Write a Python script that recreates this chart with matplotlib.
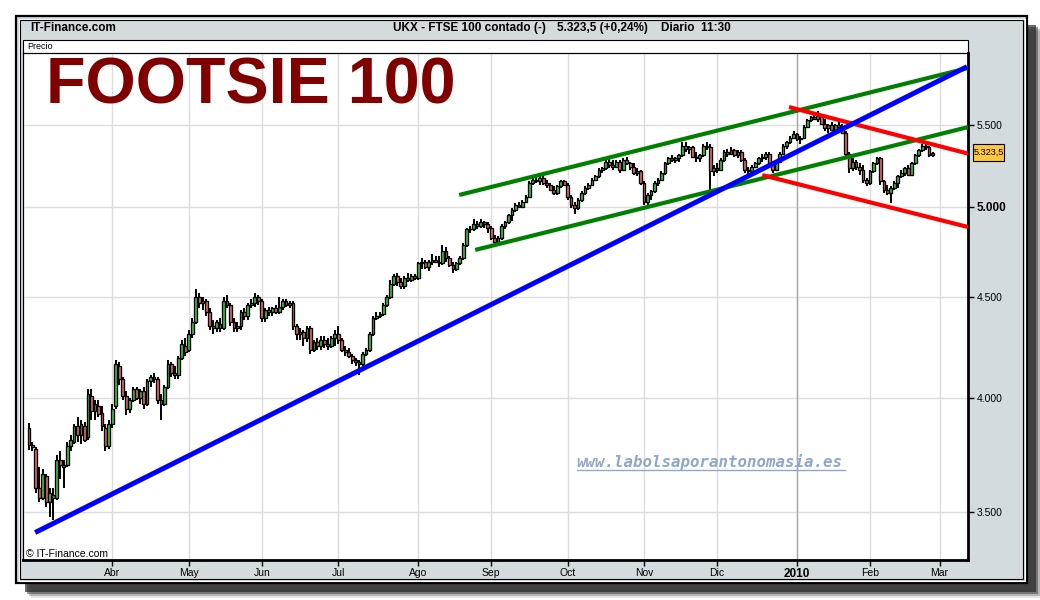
import numpy as np
import pandas as pd
import matplotlib
matplotlib.use("Agg")
import matplotlib.pyplot as plt
from matplotlib.patches import Rectangle
from matplotlib.ticker import NullLocator

plt.rcParams['font.family'] = ['Liberation Sans', 'DejaVu Sans']

# FTSE 100 diario, 26/02/2009 -> 26/02/2010
opens = [
    3860, 3785, 3770, 3600, 3560, 3650, 3540, 3570, 3560, 3720,
    3700, 3700, 3780, 3800, 3870, 3830, 3870, 3820, 4010, 3940,
    3960, 3930, 3860, 3780, 3880, 3960, 4150, 4090, 4010, 3950,
    3990, 4040, 4000, 4030, 3970, 4080, 4100, 4090, 3990, 3970,
    4050, 4160, 4120, 4110, 4190, 4250, 4230, 4310, 4370, 4500,
    4470, 4480, 4420, 4350, 4340, 4360, 4340, 4480, 4460, 4370,
    4340, 4350, 4420, 4400, 4460, 4470, 4500, 4480, 4390, 4430,
    4420, 4440, 4420, 4450, 4480, 4460, 4470, 4350, 4310, 4320,
    4290, 4340, 4230, 4270, 4250, 4280, 4260, 4250, 4290, 4310,
    4280, 4230, 4220, 4200, 4180, 4170, 4160, 4210, 4230, 4310,
    4390, 4400, 4410, 4460, 4500, 4570, 4610, 4580, 4560, 4600,
    4590, 4610, 4600, 4680, 4690, 4660, 4690, 4700, 4690, 4680,
    4750, 4710, 4670, 4650, 4680, 4710, 4780, 4870, 4870, 4900,
    4890, 4910, 4900, 4880, 4820, 4800, 4820, 4890, 4910, 4950,
    4980, 5010, 5000, 5030, 5060, 5140, 5160, 5150, 5170, 5140,
    5130, 5100, 5080, 5120, 5150, 5130, 5060, 5010, 4990, 5040,
    5080, 5110, 5130, 5160, 5180, 5220, 5230, 5270, 5250, 5240,
    5270, 5220, 5280, 5260, 5240, 5200, 5210, 5140, 5030, 5070,
    5090, 5140, 5160, 5200, 5260, 5290, 5280, 5290, 5310, 5370,
    5350, 5360, 5300, 5290, 5310, 5370, 5360, 5210, 5230, 5220,
    5280, 5330, 5320, 5340, 5310, 5330, 5280, 5220, 5210, 5240,
    5260, 5290, 5300, 5320, 5260, 5220, 5270, 5320, 5370, 5390,
    5420, 5440, 5410, 5420, 5490, 5530, 5550, 5540, 5560, 5510,
    5480, 5500, 5470, 5500, 5490, 5450, 5320, 5230, 5270, 5240,
    5220, 5160, 5140, 5210, 5260, 5290, 5150, 5100, 5080, 5110,
    5140, 5180, 5200, 5230, 5190, 5260, 5310, 5340, 5370, 5360,
    5310]
highs = [
    3885, 3800, 3775, 3690, 3680, 3660, 3600, 3600, 3740, 3760,
    3720, 3800, 3830, 3880, 3910, 3900, 3890, 4040, 4040, 3990,
    3990, 3960, 3880, 3900, 3970, 4180, 4170, 4100, 4030, 4000,
    4050, 4050, 4040, 4050, 4090, 4110, 4120, 4100, 4020, 4060,
    4180, 4170, 4150, 4200, 4280, 4290, 4330, 4390, 4540, 4520,
    4500, 4490, 4440, 4380, 4380, 4390, 4500, 4510, 4470, 4390,
    4370, 4430, 4440, 4470, 4490, 4520, 4510, 4490, 4440, 4450,
    4450, 4460, 4500, 4490, 4490, 4480, 4480, 4360, 4340, 4330,
    4350, 4350, 4280, 4290, 4300, 4300, 4290, 4300, 4330, 4350,
    4290, 4250, 4240, 4210, 4190, 4180, 4220, 4240, 4320, 4400,
    4420, 4420, 4470, 4510, 4590, 4620, 4630, 4600, 4610, 4630,
    4620, 4620, 4690, 4710, 4700, 4700, 4730, 4720, 4720, 4780,
    4770, 4720, 4690, 4690, 4720, 4790, 4880, 4890, 4930, 4920,
    4930, 4920, 4910, 4890, 4840, 4830, 4900, 4920, 4960, 4990,
    5020, 5030, 5040, 5070, 5150, 5170, 5180, 5180, 5180, 5160,
    5140, 5120, 5130, 5160, 5160, 5140, 5070, 5030, 5050, 5090,
    5120, 5140, 5170, 5190, 5230, 5240, 5290, 5290, 5280, 5280,
    5280, 5290, 5300, 5270, 5260, 5230, 5220, 5150, 5080, 5100,
    5150, 5170, 5210, 5270, 5300, 5310, 5300, 5320, 5390, 5390,
    5370, 5370, 5330, 5320, 5380, 5390, 5380, 5250, 5260, 5290,
    5340, 5350, 5360, 5350, 5340, 5340, 5290, 5240, 5250, 5270,
    5300, 5320, 5330, 5330, 5270, 5280, 5330, 5380, 5400, 5430,
    5460, 5450, 5430, 5500, 5540, 5560, 5570, 5590, 5570, 5540,
    5510, 5520, 5510, 5520, 5510, 5460, 5330, 5290, 5280, 5260,
    5250, 5170, 5220, 5270, 5300, 5300, 5160, 5130, 5120, 5150,
    5190, 5220, 5240, 5250, 5270, 5320, 5350, 5380, 5390, 5370,
    5330]
lows = [
    3765, 3760, 3580, 3540, 3550, 3520, 3480, 3470, 3550, 3640,
    3600, 3690, 3760, 3790, 3800, 3790, 3800, 3810, 3900, 3900,
    3910, 3850, 3760, 3770, 3860, 3950, 4060, 3990, 3920, 3930,
    3980, 3990, 3970, 3950, 3960, 4050, 4070, 3970, 3900, 3960,
    4040, 4100, 4090, 4090, 4180, 4200, 4220, 4290, 4360, 4440,
    4430, 4400, 4330, 4310, 4320, 4320, 4330, 4440, 4350, 4320,
    4320, 4330, 4380, 4380, 4440, 4450, 4460, 4370, 4370, 4400,
    4400, 4410, 4410, 4430, 4450, 4440, 4330, 4280, 4280, 4250,
    4270, 4210, 4220, 4230, 4230, 4240, 4230, 4240, 4250, 4260,
    4220, 4200, 4190, 4160, 4150, 4110, 4150, 4200, 4220, 4300,
    4380, 4390, 4400, 4450, 4490, 4560, 4560, 4540, 4540, 4580,
    4580, 4590, 4590, 4650, 4650, 4640, 4670, 4680, 4660, 4670,
    4690, 4660, 4630, 4640, 4670, 4700, 4770, 4850, 4860, 4870,
    4880, 4880, 4850, 4810, 4780, 4790, 4810, 4870, 4900, 4920,
    4970, 4990, 4990, 5020, 5050, 5130, 5140, 5130, 5130, 5110,
    5090, 5070, 5070, 5110, 5120, 5040, 4990, 4960, 4980, 5030,
    5070, 5100, 5120, 5150, 5170, 5200, 5220, 5230, 5220, 5230,
    5200, 5210, 5250, 5220, 5190, 5180, 5130, 5010, 5010, 5040,
    5080, 5120, 5150, 5190, 5250, 5270, 5260, 5270, 5300, 5330,
    5320, 5290, 5270, 5270, 5300, 5340, 5090, 5180, 5200, 5210,
    5270, 5300, 5310, 5300, 5290, 5270, 5200, 5190, 5200, 5230,
    5250, 5270, 5280, 5250, 5200, 5210, 5260, 5310, 5350, 5380,
    5410, 5400, 5380, 5410, 5480, 5520, 5530, 5520, 5500, 5460,
    5450, 5460, 5460, 5480, 5440, 5300, 5200, 5210, 5220, 5190,
    5140, 5120, 5130, 5200, 5250, 5130, 5080, 5070, 5020, 5100,
    5110, 5170, 5180, 5180, 5180, 5250, 5300, 5330, 5340, 5300,
    5300]
closes = [
    3785, 3775, 3600, 3560, 3660, 3540, 3580, 3560, 3720, 3700,
    3690, 3780, 3810, 3870, 3830, 3880, 3810, 4020, 3940, 3970,
    3925, 3870, 3780, 3880, 3950, 4160, 4090, 4010, 3950, 3990,
    4040, 4000, 4030, 3970, 4080, 4100, 4090, 3990, 3970, 4050,
    4160, 4120, 4110, 4190, 4260, 4220, 4310, 4370, 4500, 4470,
    4480, 4420, 4350, 4340, 4370, 4340, 4480, 4460, 4370, 4340,
    4350, 4420, 4400, 4460, 4470, 4500, 4480, 4390, 4430, 4420,
    4440, 4420, 4450, 4480, 4460, 4470, 4350, 4310, 4320, 4290,
    4340, 4230, 4270, 4250, 4280, 4260, 4250, 4290, 4310, 4280,
    4230, 4220, 4200, 4180, 4170, 4160, 4210, 4230, 4310, 4390,
    4400, 4410, 4460, 4500, 4570, 4610, 4580, 4560, 4600, 4590,
    4610, 4600, 4680, 4690, 4660, 4690, 4700, 4690, 4680, 4750,
    4710, 4670, 4650, 4680, 4710, 4780, 4870, 4870, 4900, 4890,
    4910, 4900, 4880, 4820, 4800, 4820, 4890, 4910, 4950, 4980,
    5010, 5000, 5030, 5060, 5140, 5160, 5150, 5170, 5140, 5130,
    5100, 5080, 5120, 5150, 5130, 5060, 5010, 4990, 5040, 5080,
    5110, 5130, 5160, 5180, 5220, 5230, 5270, 5250, 5240, 5270,
    5220, 5280, 5260, 5240, 5200, 5210, 5140, 5030, 5070, 5090,
    5140, 5160, 5200, 5260, 5290, 5280, 5290, 5310, 5370, 5350,
    5360, 5300, 5290, 5310, 5370, 5360, 5210, 5230, 5220, 5280,
    5330, 5320, 5340, 5310, 5330, 5280, 5220, 5210, 5240, 5260,
    5290, 5300, 5320, 5260, 5220, 5270, 5320, 5370, 5390, 5420,
    5440, 5410, 5420, 5490, 5530, 5550, 5540, 5560, 5510, 5480,
    5500, 5470, 5500, 5490, 5450, 5320, 5230, 5270, 5240, 5220,
    5160, 5140, 5210, 5260, 5290, 5150, 5100, 5080, 5110, 5140,
    5180, 5200, 5230, 5190, 5260, 5310, 5340, 5370, 5360, 5310,
    5323.5]

# lineas de tendencia: (sesion, precio) de inicio y fin
blue_line = ([1.8, 269.9], [3418, 5888])
green_upper = ([123.8, 270.2], [5069, 5879])
green_lower = ([128.4, 270.2], [4754, 5487])
red_upper = ([218.7, 270.2], [5617, 5320])
red_lower = ([211.0, 270.2], [5188, 4883])

month_labels = ['Abr', 'May', 'Jun', 'Jul', 'Ago', 'Sep', 'Oct', 'Nov', 'Dic', '2010', 'Feb', 'Mar']
price_ticks = [3500, 4000, 4500, 5000, 5500]
price_labels = ['3.500', '4.000', '4.500', '5.000', '5.500']
last_price = '5.323,5'

# indices de sesion para el eje x
sessions = pd.bdate_range('2009-02-26', '2010-03-05')
month_starts = pd.date_range('2009-04-01', '2010-03-01', freq='MS')
month_pos = [int(sessions.searchsorted(m)) for m in month_starts]

fig = plt.figure(figsize=(10.4, 6), dpi=100)
fig.patch.set_facecolor('white')

# fondo en coordenadas de pixel
bg = fig.add_axes([0, 0, 1, 1])
bg.set_xlim(0, 1040)
bg.set_ylim(600, 0)
bg.axis('off')

# sombra
for off, a in [(15, 0.12), (13, 0.25), (11, 0.45), (9, 0.7)]:
    bg.add_patch(Rectangle((16 + off, 16 + off), 1011, 567, facecolor='#2a2a2a', edgecolor='none', alpha=a))
# marco
bg.add_patch(Rectangle((16, 16), 1011, 567, facecolor='#d3dbdf', edgecolor='black', lw=1.6))
bg.add_patch(Rectangle((18.5, 18.5), 1006, 562, fill=False, edgecolor='white', lw=0.8))
bg.add_patch(Rectangle((20, 20), 1003, 559, fill=False, edgecolor='black', lw=0.8))
# caja del grafico
bg.add_patch(Rectangle((23, 40), 945, 520, facecolor='white', edgecolor='black', lw=0.8))
bg.plot([23, 968], [53, 53], color='black', lw=0.8)
bg.text(27, 46.5, 'Precio', fontsize=6.5, va='center', ha='left')

bg.text(30, 28, 'IT-Finance.com', fontsize=8.5, fontweight='bold', va='center')
bg.text(393, 28, 'UKX - FTSE 100 contado (-)', fontsize=8.5, fontweight='bold', va='center')
bg.text(557, 28, last_price + ' (+0,24%)', fontsize=8.5, fontweight='bold', va='center')
bg.text(661, 28, 'Diario  11:30', fontsize=8.5, fontweight='bold', va='center')

bg.text(26, 554, '\u00a9 IT-Finance.com', fontsize=7.5, va='center')

# etiqueta del ultimo precio
bg.add_patch(Rectangle((973, 144), 31, 17, facecolor='#ffc83c', edgecolor='black', lw=0.8))
bg.text(988.5, 152.5, last_price, fontsize=6.6, ha='center', va='center')

# grafico de velas
ax = fig.add_axes([23 / 1040, 1 - 560 / 600, 945 / 1040, 507 / 600])
ax.patch.set_alpha(0)
ax.set_yscale('log')

# titulo y marca de agua por encima de la rejilla
ax.text(46, 104, 'FOOTSIE 100', fontsize=46.5, fontweight='bold', color='#800000',
        va='baseline', transform=bg.transData, zorder=6)
ax.text(576, 462, 'www.labolsaporantonomasia.es', family='DejaVu Sans Mono', fontsize=11.3,
        fontweight='bold', style='oblique', color='#8fa8c9', va='center',
        transform=bg.transData, zorder=1.5)
ax.plot([577, 845], [469.5, 469.5], color='#8fa8c9', lw=1, transform=bg.transData, zorder=1.5)

x = np.arange(len(closes))
o = np.array(opens, dtype=float)
c = np.array(closes, dtype=float)
up = c >= o
body_col = np.where(up, '#3ec43e', '#e56a6a')

ax.vlines(x, lows, highs, color='black', lw=1.4, zorder=2)
ax.bar(x, c - o, bottom=o, width=0.8, color=body_col, edgecolor='black', linewidth=0.95, zorder=3)

ax.plot(*blue_line, color='#0000ff', lw=3.6, solid_capstyle='butt', zorder=5)
ax.plot(*green_upper, color='#008000', lw=3, solid_capstyle='butt', zorder=4)
ax.plot(*green_lower, color='#008000', lw=3, solid_capstyle='butt', zorder=4)
ax.plot(*red_upper, color='#ff0000', lw=3, solid_capstyle='butt', zorder=4)
ax.plot(*red_lower, color='#ff0000', lw=3, solid_capstyle='butt', zorder=4)

ax.set_xlim(-1.7, 270.2)
ax.set_ylim(3310, 5983)

ax.set_xticks(month_pos, month_labels)
ax.yaxis.tick_right()
ax.set_yticks(price_ticks, price_labels)
ax.yaxis.set_minor_locator(NullLocator())
ax.xaxis.set_minor_locator(NullLocator())
ax.tick_params(axis='x', length=4, width=1, labelsize=7.5, pad=2)
ax.tick_params(axis='y', length=4, width=1, labelsize=7.5, pad=2)
for lbl in ax.get_xticklabels():
    if lbl.get_text() == '2010':
        lbl.set_fontweight('bold')
        lbl.set_fontsize(8.5)
for lbl in ax.get_yticklabels():
    if lbl.get_text() == '5.000':
        lbl.set_fontweight('bold')
        lbl.set_fontsize(8.5)

ax.set_axisbelow(True)
ax.grid(True, color='#dcdcdc', lw=1, zorder=0)
ax.axvline(month_pos[month_labels.index('2010')], color='#a8a8a8', lw=1, zorder=1)

for side in ['left', 'top']:
    ax.spines[side].set_linewidth(0.8)
for side in ['right', 'bottom']:
    ax.spines[side].set_linewidth(2)

fig.savefig('out.png', dpi=100)
